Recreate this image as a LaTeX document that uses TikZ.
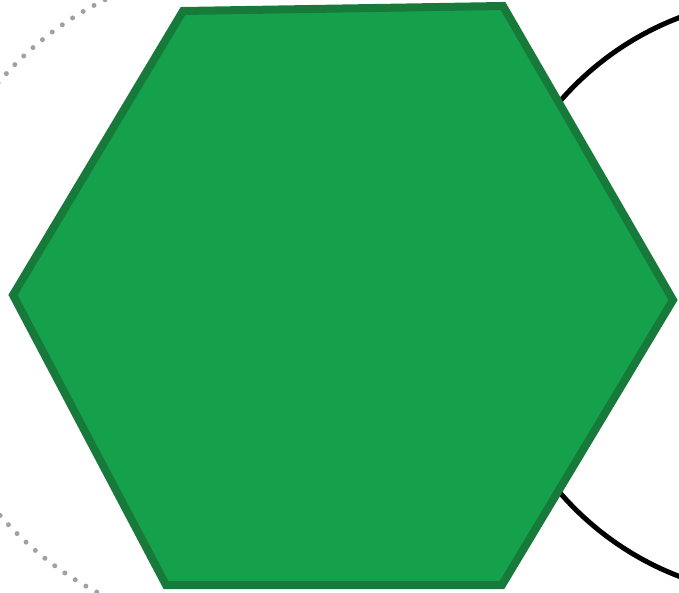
\documentclass[tikz,border=0pt]{standalone}
\begin{document}
\begin{tikzpicture}[x=1pt,y=-1pt,
  hexfill/.style={fill={rgb,255:red,21;green,160;blue,76}, draw={rgb,255:red,24;green,122;blue,58}, line width=8pt, line join=miter},
  ringdots/.style={draw={rgb,255:red,160;green,160;blue,165}, line width=5pt, line cap=round, dash pattern=on 0pt off 12.4pt},
  ringline/.style={draw=black, line width=5pt}]
\useasboundingbox (0,0) rectangle (679,593);
\begin{scope}
\clip (0,0) rectangle (200,593);
\draw[ringdots] (251,298) circle[radius=332];
\end{scope}
\begin{scope}
\clip (0,0) rectangle (679,593);
\draw[ringline] (786,297) circle[radius=299];
\end{scope}
\draw[hexfill] (183,11) -- (503,6) -- (673,300) -- (502,585) -- (166,585) -- (13,295) -- cycle;
\end{tikzpicture}
\end{document}
